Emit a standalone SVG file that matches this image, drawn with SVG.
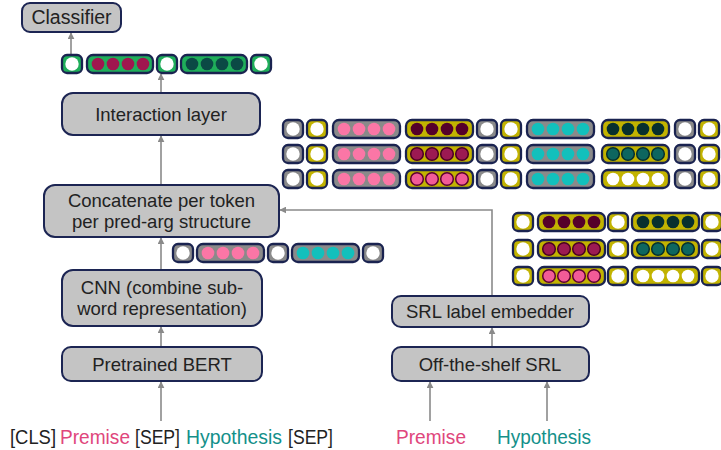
<svg xmlns="http://www.w3.org/2000/svg" xmlns:xlink="http://www.w3.org/1999/xlink" width="721" height="450" viewBox="0 0 721 450">
<style>
.box{fill:#c4c4c4;stroke:#1c2553;stroke-width:2}
.lbl{font-family:"Liberation Sans",Arial,sans-serif;font-size:18.5px;fill:#222;text-anchor:middle}
.in{font-family:"Liberation Sans",Arial,sans-serif;font-size:20px;fill:#222}
.pr{fill:#e0467c}
.hy{fill:#14908a}
.con{fill:none;stroke:#8a8a8a;stroke-width:1.6}
.tk{stroke:#1a2350;stroke-width:2.3}
.g{fill:#8a8a8a}.y{fill:#c2b300}.gr{fill:#1fae5a}
.w{fill:#fff}
</style>
<defs>
<marker id="ah" viewBox="0 0 10 10" refX="9" refY="5" markerWidth="7" markerHeight="7" orient="auto" markerUnits="userSpaceOnUse">
<path d="M0,0 L10,5 L0,10 z" fill="#8a8a8a"/>
</marker>
<g id="sG"><rect class="tk g" x="0" y="0" width="20" height="18" rx="5"/><circle class="w" cx="10" cy="9" r="6.7"/></g>
<g id="sY"><rect class="tk y" x="0" y="0" width="20" height="18" rx="5"/><circle class="w" cx="10" cy="9" r="6.7"/></g>
<g id="sGr"><rect class="tk gr" x="0" y="0" width="20" height="18" rx="5"/><circle class="w" cx="10" cy="9" r="6.7"/></g>
<g id="c4"><circle cx="11" cy="9" r="6.3"/><circle cx="26" cy="9" r="6.3"/><circle cx="41" cy="9" r="6.3"/><circle cx="56" cy="9" r="6.3"/></g>
<g id="LgPink"><rect class="tk g" x="0" y="0" width="67" height="18" rx="6"/><use href="#c4" fill="#fb76a6"/></g>
<g id="LgTeal"><rect class="tk g" x="0" y="0" width="67" height="18" rx="6"/><use href="#c4" fill="#12c0bc"/></g>
<g id="LyDred"><rect class="tk y" x="0" y="0" width="67" height="18" rx="6"/><use href="#c4" fill="#55002a"/></g>
<g id="LyMred"><rect class="tk y" x="0" y="0" width="67" height="18" rx="6"/><use href="#c4" fill="#9c1a52" stroke="#4a0022" stroke-width="1.5"/></g>
<g id="LyLpink"><rect class="tk y" x="0" y="0" width="67" height="18" rx="6"/><use href="#c4" fill="#f15b97" stroke="#5a0030" stroke-width="1.5"/></g>
<g id="LyDgrn"><rect class="tk y" x="0" y="0" width="67" height="18" rx="6"/><use href="#c4" fill="#07302e"/></g>
<g id="LyMtl"><rect class="tk y" x="0" y="0" width="67" height="18" rx="6"/><use href="#c4" fill="#0d665f" stroke="#06302d" stroke-width="1.5"/></g>
<g id="LyWht"><rect class="tk y" x="0" y="0" width="67" height="18" rx="6"/><use href="#c4" fill="#fff"/></g>
<g id="LgrRed"><rect class="tk gr" x="0" y="0" width="66" height="18" rx="6"/><use href="#c4" fill="#a0164f"/></g>
<g id="LgrDg"><rect class="tk gr" x="0" y="0" width="66" height="18" rx="6"/><use href="#c4" fill="#0b4a45"/></g>
</defs>
<rect width="721" height="450" fill="#fff"/>

<g id="connectors">
<line class="con" x1="71" y1="54" x2="71" y2="33" marker-end="url(#ah)"/>
<line class="con" x1="161" y1="93" x2="161" y2="74" marker-end="url(#ah)"/>
<line class="con" x1="161" y1="185" x2="161" y2="136" marker-end="url(#ah)"/>
<line class="con" x1="161" y1="270" x2="161" y2="238" marker-end="url(#ah)"/>
<line class="con" x1="161" y1="347" x2="161" y2="327" marker-end="url(#ah)"/>
<line class="con" x1="161" y1="421" x2="161" y2="382" marker-end="url(#ah)"/>
<line class="con" x1="492" y1="347" x2="492" y2="328" marker-end="url(#ah)"/>
<polyline class="con" points="492,296 492,210 280,210" marker-end="url(#ah)"/>
<line class="con" x1="430" y1="421" x2="430" y2="382" marker-end="url(#ah)"/>
<line class="con" x1="547" y1="421" x2="547" y2="382" marker-end="url(#ah)"/>
</g>

<g id="classifier"><rect class="box" x="22" y="3" width="99" height="29" rx="8"/><text class="lbl" x="71.5" y="24" style="font-size:19.5px">Classifier</text></g>
<g id="interaction"><rect class="box" x="62" y="93" width="198" height="42" rx="11"/><text class="lbl" x="161" y="121">Interaction layer</text></g>
<g id="concat"><rect class="box" x="44" y="185" width="235" height="52" rx="11"/><text class="lbl" x="161.5" y="206.5">Concatenate per token</text><text class="lbl" x="161.5" y="228">per pred-arg structure</text></g>
<g id="cnn"><rect class="box" x="62" y="270" width="200" height="56" rx="11"/><text class="lbl" x="162" y="294">CNN (combine sub-</text><text class="lbl" x="162" y="315">word representation)</text></g>
<g id="bert"><rect class="box" x="62" y="347" width="200" height="34" rx="9"/><text class="lbl" x="162" y="371">Pretrained BERT</text></g>
<g id="srlemb"><rect class="box" x="392" y="296" width="197" height="31" rx="9"/><text class="lbl" x="490" y="318">SRL label embedder</text></g>
<g id="srl"><rect class="box" x="392" y="347" width="197" height="34" rx="9"/><text class="lbl" x="490" y="371">Off-the-shelf SRL</text></g>

<g id="tokens-out">
<use href="#sGr" x="62" y="55"/><use href="#LgrRed" x="87" y="55"/><use href="#sGr" x="157" y="55"/><use href="#LgrDg" x="181" y="55"/><use href="#sGr" x="251" y="55"/>
</g>
<g id="tokens-bert">
<use href="#sG" x="173" y="244"/><use href="#LgPink" x="197" y="244"/><use href="#sG" x="268" y="244"/><use href="#LgTeal" x="292" y="244"/><use href="#sG" x="363" y="244"/>
</g>
<g id="tokens-concat">
<use href="#sG" x="283" y="120"/><use href="#sY" x="307" y="120"/><use href="#LgPink" x="333" y="120"/><use href="#LyDred" x="406" y="120"/><use href="#sG" x="477" y="120"/><use href="#sY" x="501" y="120"/><use href="#LgTeal" x="527" y="120"/><use href="#LyDgrn" x="602" y="120"/><use href="#sG" x="675" y="120"/><use href="#sY" x="699" y="120"/>
<use href="#sG" x="283" y="145"/><use href="#sY" x="307" y="145"/><use href="#LgPink" x="333" y="145"/><use href="#LyMred" x="406" y="145"/><use href="#sG" x="477" y="145"/><use href="#sY" x="501" y="145"/><use href="#LgTeal" x="527" y="145"/><use href="#LyMtl" x="602" y="145"/><use href="#sG" x="675" y="145"/><use href="#sY" x="699" y="145"/>
<use href="#sG" x="283" y="170"/><use href="#sY" x="307" y="170"/><use href="#LgPink" x="333" y="170"/><use href="#LyLpink" x="406" y="170"/><use href="#sG" x="477" y="170"/><use href="#sY" x="501" y="170"/><use href="#LgTeal" x="527" y="170"/><use href="#LyWht" x="602" y="170"/><use href="#sG" x="675" y="170"/><use href="#sY" x="699" y="170"/>
</g>
<g id="tokens-srl">
<use href="#sY" x="513" y="213"/><use href="#LyDred" x="538" y="213"/><use href="#sY" x="608" y="213"/><use href="#LyDgrn" x="632" y="213"/><use href="#sY" x="702" y="213"/>
<use href="#sY" x="513" y="240"/><use href="#LyMred" x="538" y="240"/><use href="#sY" x="608" y="240"/><use href="#LyMtl" x="632" y="240"/><use href="#sY" x="702" y="240"/>
<use href="#sY" x="513" y="267"/><use href="#LyLpink" x="538" y="267"/><use href="#sY" x="608" y="267"/><use href="#LyWht" x="632" y="267"/><use href="#sY" x="702" y="267"/>
</g>

<g id="inputs">
<text class="in" x="10" y="444" textLength="46" lengthAdjust="spacingAndGlyphs">[CLS]</text>
<text class="in pr" x="60" y="444" textLength="70" lengthAdjust="spacingAndGlyphs">Premise</text>
<text class="in" x="135" y="444" textLength="45" lengthAdjust="spacingAndGlyphs">[SEP]</text>
<text class="in hy" x="186" y="444" textLength="96" lengthAdjust="spacingAndGlyphs">Hypothesis</text>
<text class="in" x="288" y="444" textLength="45" lengthAdjust="spacingAndGlyphs">[SEP]</text>
<text class="in pr" x="396" y="444" textLength="70" lengthAdjust="spacingAndGlyphs">Premise</text>
<text class="in hy" x="497" y="444" textLength="94" lengthAdjust="spacingAndGlyphs">Hypothesis</text>
</g>
</svg>
